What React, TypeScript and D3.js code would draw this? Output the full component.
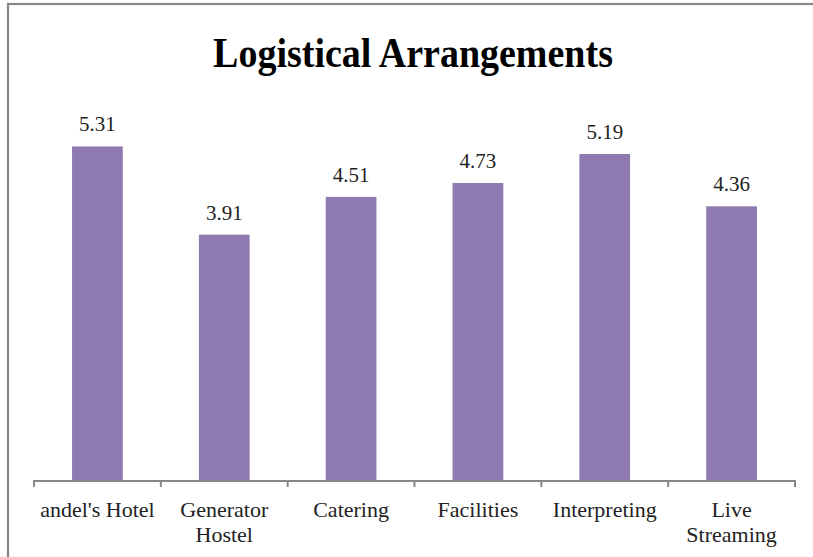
import React, { useEffect, useRef } from "react";
import * as d3 from "d3";

// chart data
const categories = ["andel's Hotel", "Generator Hostel", "Catering", "Facilities", "Interpreting", "Live Streaming"];
const values = [5.31, 3.91, 4.51, 4.73, 5.19, 4.36];
const title = "Logistical Arrangements";

const W = 813;
const H = 557;
const FONT = "'Liberation Serif', 'Times New Roman', serif";

export default function App() {
  const ref = useRef<SVGSVGElement>(null);

  useEffect(() => {
    const svg = d3.select(ref.current);
    svg.selectAll("*").remove();

    const left = 34;
    const right = 795;
    const baseY = 481;
    const topY = 103;

    // outer frame (cropped on the right and bottom, like the screenshot)
    svg.append("rect")
      .attr("x", 8)
      .attr("y", 4)
      .attr("width", 900)
      .attr("height", 700)
      .attr("fill", "#fff")
      .attr("stroke", "#878787")
      .attr("stroke-width", 2.2);

    // title, stretched a little vertically to mimic the narrow bold face
    svg.append("text")
      .attr("transform", "translate(413,67) scale(1,1.12)")
      .attr("text-anchor", "middle")
      .attr("font-family", FONT)
      .attr("font-weight", "bold")
      .attr("font-size", 38)
      .attr("fill", "#000")
      .text(title);

    const x = d3.scaleBand<string>()
      .domain(categories)
      .range([left, right])
      .paddingInner(0.6)
      .paddingOuter(0.3);

    const y = d3.scaleLinear().domain([0, 6]).range([baseY, topY]);

    // bars
    svg.append("g")
      .selectAll("rect")
      .data(values)
      .join("rect")
      .attr("x", (_, i) => x(categories[i])!)
      .attr("y", (d) => y(d))
      .attr("width", x.bandwidth())
      .attr("height", (d) => baseY - y(d))
      .attr("fill", "#8E7AB0");

    // value labels
    svg.append("g")
      .selectAll("text")
      .data(values)
      .join("text")
      .attr("x", (_, i) => x(categories[i])! + x.bandwidth() / 2)
      .attr("y", (d) => y(d) - 15)
      .attr("text-anchor", "middle")
      .attr("font-family", FONT)
      .attr("font-size", 21)
      .attr("fill", "#222")
      .text((d) => d.toFixed(2));

    // x axis line with boundary ticks
    const step = x.step();
    const bounds = d3.range(categories.length + 1).map((i) => left + i * step);
    const axis = svg.append("g").attr("stroke", "#878787").attr("stroke-width", 2);
    axis.append("line")
      .attr("x1", left)
      .attr("x2", right)
      .attr("y1", baseY)
      .attr("y2", baseY);
    axis.selectAll("line.tick")
      .data(bounds)
      .join("line")
      .attr("class", "tick")
      .attr("x1", (d) => d)
      .attr("x2", (d) => d)
      .attr("y1", baseY - 1)
      .attr("y2", baseY + 6);

    // category labels, wrapped when wider than the slot
    const labels = svg.append("g")
      .selectAll("text")
      .data(categories)
      .join("text")
      .attr("x", (d) => x(d)! + x.bandwidth() / 2)
      .attr("y", 517)
      .attr("text-anchor", "middle")
      .attr("font-family", FONT)
      .attr("font-size", 22)
      .attr("fill", "#222")
      .text((d) => d);

    labels.each(function (d) {
      const t = d3.select(this);
      const node = this as SVGTextElement;
      if (node.getComputedTextLength() > 122) {
        const cx = +t.attr("x");
        const words = d.split(" ");
        t.text(null);
        words.forEach((w, i) => {
          t.append("tspan")
            .attr("x", cx)
            .attr("dy", i === 0 ? 0 : 25)
            .text(w);
        });
      }
    });
  }, []);

  return (
    <svg
      ref={ref}
      width={W}
      height={H}
      style={{ position: "absolute", left: 0, top: 0, background: "#fff" }}
    />
  );
}
